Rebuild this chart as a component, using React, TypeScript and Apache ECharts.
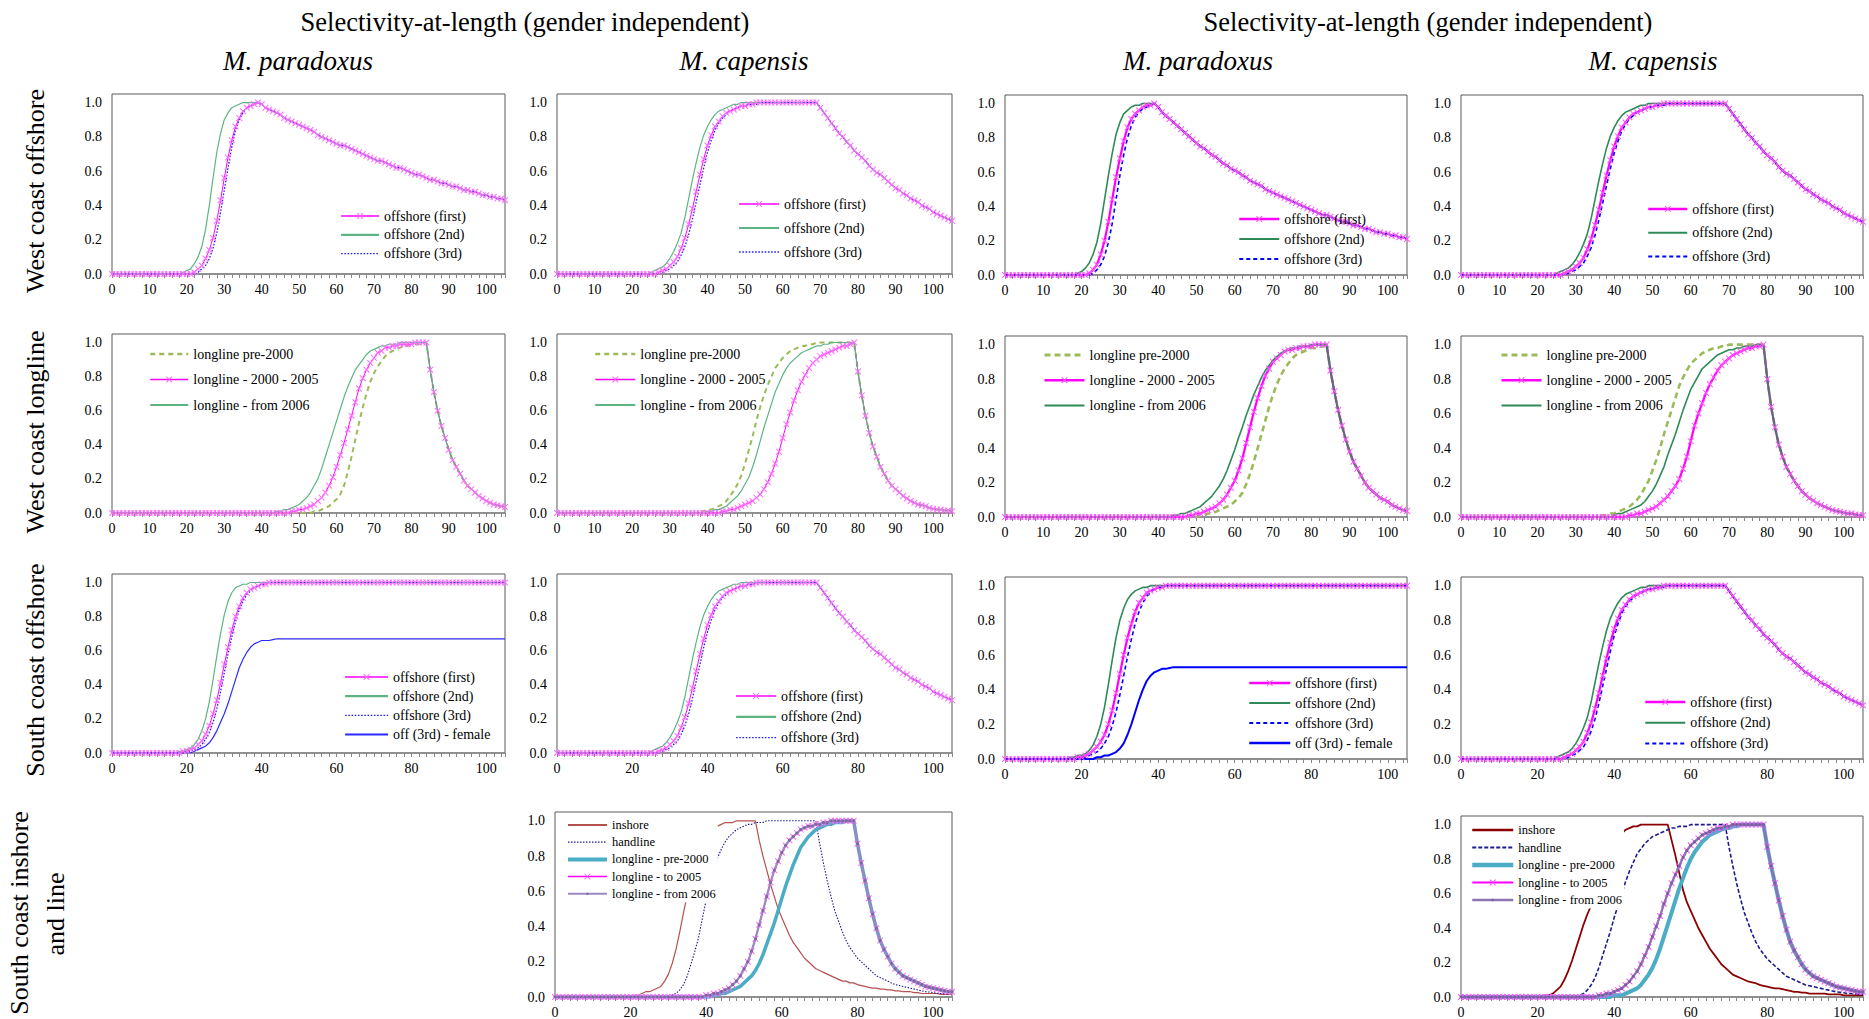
import React, { useEffect, useRef } from "react";
import * as echarts from "echarts";

// ---------------- DATA (selectivity at length 0..105 cm, one value per cm) ----------------
// Row 1: West coast offshore
// left analysis, M. paradoxus: x = 0..39 then common tail 40..105
const aWcoParFirst = [0,0,0,0,0,0,0,0,0,0, 0,0,0,0,0,0,0,0,0,0, 0,0, 0.01,0.03,0.05,0.09,0.14,0.21,0.31,0.43,0.56,0.68, 0.78,0.86,0.91,0.95,0.97,0.98,0.99,1];
const aWcoParSecond = [0,0,0,0,0,0,0,0,0,0, 0,0,0,0,0,0,0,0,0, 0.01,0.02,0.03,0.06,0.10,0.16,0.26,0.40,0.56,0.71, 0.82,0.90,0.94,0.97,0.98,0.99,1,1,1,1,1];
const aWcoParThird = [0,0,0,0,0,0,0,0,0,0, 0,0,0,0,0,0,0,0,0,0, 0,0,0, 0.01,0.03,0.05,0.09,0.15,0.24,0.36,0.49,0.62,0.74, 0.84,0.90,0.94,0.97,0.98,0.99,1];
const aWcoParTail = [0.99,0.97,0.96,0.95,0.94,0.93,0.91,0.90,0.89,0.88, 0.87,0.86,0.85,0.84,0.83,0.81,0.80,0.79,0.78,0.77, 0.76,0.75,0.75,0.74,0.73,0.72,0.71,0.70,0.69,0.68, 0.67,0.66,0.66,0.65,0.64,0.63,0.62,0.62,0.61,0.60, 0.59,0.58,0.58,0.57,0.56,0.55,0.55,0.54,0.53,0.53, 0.52,0.51,0.51,0.50,0.49,0.49,0.48,0.48,0.47,0.46, 0.46,0.45,0.45,0.44,0.44,0.43];
// right analysis, M. paradoxus
const bWcoParFirst = [0,0,0,0,0,0,0,0,0,0, 0,0,0,0,0,0,0,0,0,0, 0,0, 0.01,0.03,0.06,0.12,0.20,0.31,0.44,0.57,0.68,0.78, 0.86,0.91,0.94,0.96,0.98,0.99,0.99,1];
const bWcoParSecond = [0,0,0,0,0,0,0,0,0,0, 0,0,0,0,0,0,0,0,0, 0.01,0.02,0.04,0.07,0.12,0.19,0.30,0.44,0.58,0.71, 0.82,0.89,0.94,0.96,0.98,0.99,0.99,1,1,1,1];
const bWcoParThird = [0,0,0,0,0,0,0,0,0,0, 0,0,0,0,0,0,0,0,0,0, 0,0,0, 0.01,0.03,0.06,0.11,0.19,0.30,0.44,0.58,0.70,0.80, 0.87,0.92,0.95,0.97,0.98,0.99,1];
const bWcoParTail = [0.98,0.95,0.93,0.91,0.89,0.87,0.85,0.83,0.81,0.79, 0.77,0.75,0.74,0.72,0.70,0.69,0.67,0.65,0.64,0.62, 0.61,0.60,0.58,0.57,0.55,0.54,0.53,0.52,0.50,0.49, 0.48,0.47,0.46,0.45,0.44,0.43,0.42,0.41,0.40,0.39, 0.38,0.37,0.36,0.35,0.35,0.34,0.33,0.32,0.31,0.31, 0.30,0.29,0.29,0.28,0.27,0.27,0.26,0.25,0.25,0.24, 0.24,0.23,0.23,0.22,0.22,0.21];
// M. capensis offshore (x = 0..69 then tail 70..105)
const capOffFirst = [0,0,0,0,0,0,0,0,0,0, 0,0,0,0,0,0,0,0,0,0, 0,0,0,0,0,0,0, 0.01,0.02,0.03,0.05,0.07,0.10,0.15,0.21,0.29,0.38, 0.48,0.58,0.67,0.75,0.81,0.86,0.89,0.92,0.94,0.95, 0.96,0.97,0.98,0.98,0.99,0.99, 1,1,1,1,1,1,1,1,1,1, 1,1,1,1,1,1,1];
const capOffSecond = [0,0,0,0,0,0,0,0,0,0, 0,0,0,0,0,0,0,0,0,0, 0,0,0,0,0, 0.01,0.02,0.03,0.04,0.06,0.09,0.13,0.18,0.24,0.33, 0.44,0.55,0.65,0.74,0.81,0.86,0.90,0.93,0.95,0.96, 0.97,0.98,0.99,0.99, 1,1,1,1,1,1,1,1,1,1, 1,1,1,1,1,1,1,1,1,1, 1];
const capOffThird = [0,0,0,0,0,0,0,0,0,0, 0,0,0,0,0,0,0,0,0,0, 0,0,0,0,0,0,0,0, 0.01,0.02,0.03,0.05,0.07,0.11,0.16,0.23,0.32,0.42, 0.52,0.62,0.71,0.78,0.84,0.88,0.91,0.93,0.95,0.96, 0.97,0.98,0.98,0.99,0.99,0.99, 1,1,1,1,1,1,1,1,1,1, 1,1,1,1,1,1];
const capOffTail = [0.97,0.94,0.91,0.88,0.85,0.82,0.80,0.77,0.75,0.72, 0.70,0.68,0.66,0.63,0.61,0.59,0.58,0.56,0.54,0.52, 0.50,0.49,0.47,0.46,0.44,0.43,0.42,0.40,0.39,0.38, 0.36,0.35,0.34,0.33,0.32,0.31];

// Row 2: West coast longline (M. paradoxus x = 0..84, tail 85..105)
const aWclParPre = [0,0,0,0,0,0,0,0,0,0, 0,0,0,0,0,0,0,0,0,0, 0,0,0,0,0,0,0,0,0,0, 0,0,0,0,0,0,0,0,0,0, 0,0,0,0,0,0,0,0,0,0, 0,0,0,0, 0.01,0.01,0.02,0.03,0.04,0.06,0.08,0.11,0.16,0.24, 0.33,0.43,0.53,0.62,0.70,0.77,0.82,0.86,0.89,0.92, 0.94,0.95,0.96,0.97,0.98,0.98,0.99,0.99,0.99,1,1];
const aWclParMid = [0,0,0,0,0,0,0,0,0,0, 0,0,0,0,0,0,0,0,0,0, 0,0,0,0,0,0,0,0,0,0, 0,0,0,0,0,0,0,0,0,0, 0,0,0,0,0,0,0,0, 0.01,0.01,0.02,0.02,0.03,0.04,0.05,0.07,0.09,0.12, 0.16,0.21,0.27,0.34,0.41,0.49,0.57,0.65,0.73,0.79, 0.84,0.88,0.91,0.94,0.95,0.97,0.97,0.98,0.98,0.99, 0.99,0.99,0.99,1,1,1,1];
const aWclParNew = [0,0,0,0,0,0,0,0,0,0, 0,0,0,0,0,0,0,0,0,0, 0,0,0,0,0,0,0,0,0,0, 0,0,0,0,0,0,0,0,0,0, 0,0,0,0, 0.01,0.01,0.02,0.02,0.03,0.04,0.05,0.07,0.09,0.12, 0.16,0.20,0.26,0.33,0.40,0.47,0.54,0.61,0.68,0.74, 0.79,0.84,0.87,0.90,0.93,0.95,0.96,0.97,0.98,0.98, 0.99,0.99,0.99,1,1,1,1,1,1,1,1];
const aWclParTail = [0.84,0.71,0.60,0.51,0.44,0.37,0.31,0.27,0.23,0.19, 0.16,0.14,0.12,0.10,0.085,0.07,0.06,0.05,0.045,0.04, 0.035];
const bWclParNew = [0,0,0,0,0,0,0,0,0,0, 0,0,0,0,0,0,0,0,0,0, 0,0,0,0,0,0,0,0,0,0, 0,0,0,0,0,0,0,0,0,0, 0,0,0,0, 0.01,0.01,0.02,0.02,0.03,0.04,0.05,0.06,0.08,0.10, 0.12,0.15,0.18,0.22,0.27,0.33,0.39,0.46,0.52,0.59, 0.65,0.71,0.76,0.81,0.85,0.88,0.91,0.93,0.95,0.96, 0.97,0.98,0.98,0.99,0.99,0.99,1,1,1,1,1];
const bWclParMid = [0,0,0,0,0,0,0,0,0,0, 0,0,0,0,0,0,0,0,0,0, 0,0,0,0,0,0,0,0,0,0, 0,0,0,0,0,0,0,0,0,0, 0,0,0,0,0,0,0,0, 0.01,0.01,0.02,0.02,0.03,0.04,0.05,0.06,0.08,0.10, 0.13,0.17,0.21,0.27,0.34,0.43,0.52,0.61,0.69,0.76, 0.82,0.86,0.90,0.92,0.94,0.96,0.97,0.97,0.98,0.98, 0.99,0.99,0.99,1,1,1,1];
const bWclParPre = [0,0,0,0,0,0,0,0,0,0, 0,0,0,0,0,0,0,0,0,0, 0,0,0,0,0,0,0,0,0,0, 0,0,0,0,0,0,0,0,0,0, 0,0,0,0,0,0,0,0,0,0, 0, 0.01,0.01,0.02,0.02,0.03,0.04,0.05,0.06,0.07,0.09, 0.11,0.14,0.19,0.25,0.32,0.40,0.48,0.56,0.64,0.71, 0.77,0.82,0.86,0.89,0.92,0.94,0.95,0.96,0.97,0.98, 0.98,0.99,0.99,1];
const bWclParTail = [0.85,0.73,0.62,0.53,0.45,0.38,0.32,0.28,0.24,0.20, 0.17,0.15,0.13,0.11,0.10,0.09,0.07,0.06,0.05,0.04, 0.035];
// M. capensis longline (x = 0..79, tail 80..105)
const aWclCapPre = [0,0,0,0,0,0,0,0,0,0, 0,0,0,0,0,0,0,0,0,0, 0,0,0,0,0,0,0,0,0,0, 0,0,0,0,0,0,0,0, 0.01,0.01,0.02,0.02,0.03,0.04,0.05,0.07,0.10,0.13, 0.17,0.22,0.29,0.37,0.45,0.54,0.62,0.69,0.75,0.80, 0.85,0.88,0.91,0.93,0.95,0.96,0.97,0.98,0.98,0.99, 0.99, 1,1,1,1,1,1,1,1,1,1,1];
const aWclCapNew = [0,0,0,0,0,0,0,0,0,0, 0,0,0,0,0,0,0,0,0,0, 0,0,0,0,0,0,0,0,0,0, 0,0,0,0,0,0,0,0,0,0, 0.01,0.01,0.02,0.02,0.03,0.04,0.06,0.08,0.10,0.13, 0.17,0.21,0.27,0.34,0.42,0.50,0.57,0.64,0.71,0.76, 0.81,0.85,0.88,0.90,0.92,0.94,0.95,0.96,0.97,0.98, 0.98,0.99,0.99, 1,1,1,1,1,1,1];
const aWclCapMid = [0,0,0,0,0,0,0,0,0,0, 0,0,0,0,0,0,0,0,0,0, 0,0,0,0,0,0,0,0,0,0, 0,0,0,0,0,0,0,0,0,0, 0,0,0,0, 0.01,0.01,0.02,0.02,0.03,0.04,0.05,0.06,0.07,0.09, 0.11,0.14,0.18,0.23,0.29,0.36,0.44,0.52,0.59,0.66, 0.72,0.77,0.81,0.85,0.88,0.90,0.92,0.93,0.94,0.95, 0.96,0.97,0.98,0.98,0.99,1];
const aWclCapTail = [0.83,0.69,0.57,0.47,0.39,0.33,0.27,0.23,0.19,0.16, 0.14,0.12,0.10,0.085,0.07,0.06,0.05,0.045,0.04,0.03, 0.025,0.02,0.02,0.015,0.015,0.01];
const bWclCapPre = [0,0,0,0,0,0,0,0,0,0, 0,0,0,0,0,0,0,0,0,0, 0,0,0,0,0,0,0,0,0,0, 0,0,0,0,0,0,0, 0.01,0.01,0.02,0.02,0.03,0.04,0.05,0.06,0.08,0.10, 0.13,0.17,0.21,0.27,0.33,0.40,0.48,0.55,0.62,0.69, 0.76,0.81,0.85,0.89,0.91,0.93,0.95,0.96,0.97,0.98, 0.98,0.99,0.99, 1,1,1,1,1,1,1,1,1,1];
const bWclCapNew = [0,0,0,0,0,0,0,0,0,0, 0,0,0,0,0,0,0,0,0,0, 0,0,0,0,0,0,0,0,0,0, 0,0,0,0,0,0,0,0,0,0, 0.01,0.02,0.02,0.03,0.04,0.05,0.06,0.07,0.09,0.12, 0.15,0.19,0.24,0.29,0.36,0.42,0.48,0.55,0.62,0.68, 0.74,0.78,0.82,0.86,0.88,0.90,0.92,0.94,0.95,0.96, 0.97,0.97,0.98,0.98,0.99,0.99,0.99, 1,1,1];
const bWclCapMid = [0,0,0,0,0,0,0,0,0,0, 0,0,0,0,0,0,0,0,0,0, 0,0,0,0,0,0,0,0,0,0, 0,0,0,0,0,0,0,0,0,0, 0,0,0,0, 0.01,0.01,0.02,0.02,0.03,0.04,0.05,0.06,0.08,0.10, 0.12,0.15,0.18,0.22,0.28,0.35,0.44,0.53,0.60,0.66, 0.72,0.77,0.81,0.85,0.88,0.90,0.92,0.94,0.95,0.96, 0.97,0.98,0.98,0.99,0.99,1];
const bWclCapTail = [0.80,0.64,0.52,0.42,0.35,0.29,0.25,0.21,0.18,0.15, 0.13,0.11,0.095,0.08,0.07,0.06,0.05,0.04,0.035,0.03, 0.025,0.02,0.02,0.015,0.01,0.01];

// Row 3: South coast offshore, M. paradoxus (x = 0..49, then plateau 50..105)
const aScoParFirst = [0,0,0,0,0,0,0,0,0,0, 0,0,0,0,0,0,0,0,0, 0.01,0.01,0.02,0.03,0.05,0.07,0.11,0.16,0.23,0.31, 0.41,0.52,0.62,0.72,0.80,0.86,0.91,0.94,0.96,0.97, 0.98,0.99,0.99, 1,1,1,1,1,1,1,1];
const aScoParSecond = [0,0,0,0,0,0,0,0,0,0, 0,0,0,0,0,0,0,0, 0.01,0.01,0.02,0.03,0.05,0.08,0.13,0.20,0.30,0.43, 0.57,0.70,0.81,0.89,0.94,0.97,0.98,0.99,0.99, 1,1,1,1,1,1,1,1,1,1,1,1,1];
const aScoParThird = [0,0,0,0,0,0,0,0,0,0, 0,0,0,0,0,0,0,0,0,0, 0.01,0.01,0.02,0.03,0.05,0.08,0.12,0.18,0.26,0.36, 0.47,0.58,0.68,0.77,0.84,0.89,0.93,0.95,0.97,0.98, 0.99,0.99, 1,1,1,1,1,1,1,1];
const aScoParFemale = [0,0,0,0,0,0,0,0,0,0, 0,0,0,0,0,0,0,0,0,0, 0,0, 0.01,0.02,0.03,0.04,0.06,0.09,0.13,0.18,0.23,0.29, 0.36,0.43,0.50,0.55,0.59,0.62,0.64,0.65,0.66,0.66, 0.66,0.665, 0.67,0.67,0.67,0.67,0.67,0.67];
const aScoParFemalePlateau = [0.67,0.67,0.67,0.67,0.67,0.67,0.67,0.67,0.67,0.67, 0.67,0.67,0.67,0.67,0.67,0.67,0.67,0.67,0.67,0.67, 0.67,0.67,0.67,0.67,0.67,0.67,0.67,0.67,0.67,0.67, 0.67,0.67,0.67,0.67,0.67,0.67,0.67,0.67,0.67,0.67, 0.67,0.67,0.67,0.67,0.67,0.67,0.67,0.67,0.67,0.67, 0.67,0.67,0.67,0.67,0.67,0.67];
const scoPlateau = [1,1,1,1,1,1,1,1,1,1, 1,1,1,1,1,1,1,1,1,1, 1,1,1,1,1,1,1,1,1,1, 1,1,1,1,1,1,1,1,1,1, 1,1,1,1,1,1,1,1,1,1, 1,1,1,1,1,1];
const bScoParFirst = [0,0,0,0,0,0,0,0,0,0, 0,0,0,0,0,0,0,0,0, 0.01,0.01,0.02,0.03,0.05,0.07,0.10,0.14,0.20,0.28, 0.38,0.49,0.60,0.70,0.78,0.85,0.90,0.93,0.96,0.97, 0.98,0.99,0.99, 1,1,1,1,1,1,1,1];
const bScoParSecond = [0,0,0,0,0,0,0,0,0,0, 0,0,0,0,0,0,0, 0.01,0.01,0.02,0.02,0.03,0.05,0.08,0.13,0.20,0.30, 0.43,0.57,0.70,0.80,0.87,0.92,0.95,0.97,0.98,0.99, 0.99, 1,1,1,1,1,1,1,1,1,1,1,1];
const bScoParThird = [0,0,0,0,0,0,0,0,0,0, 0,0,0,0,0,0,0,0,0,0, 0.01,0.01,0.02,0.03,0.04,0.06,0.09,0.13,0.19,0.27, 0.37,0.48,0.59,0.69,0.78,0.85,0.90,0.94,0.96,0.98, 0.99,0.99, 1,1,1,1,1,1,1,1];
const bScoParFemale = [0,0,0,0,0,0,0,0,0,0, 0,0,0,0,0,0,0,0,0,0, 0,0,0,0, 0.01,0.01,0.02,0.02,0.03,0.04,0.06,0.09,0.14,0.20, 0.27,0.34,0.40,0.45,0.48,0.50,0.51,0.52,0.52,0.525, 0.53,0.53,0.53,0.53,0.53,0.53];
const bScoParFemalePlateau = [0.53,0.53,0.53,0.53,0.53,0.53,0.53,0.53,0.53,0.53, 0.53,0.53,0.53,0.53,0.53,0.53,0.53,0.53,0.53,0.53, 0.53,0.53,0.53,0.53,0.53,0.53,0.53,0.53,0.53,0.53, 0.53,0.53,0.53,0.53,0.53,0.53,0.53,0.53,0.53,0.53, 0.53,0.53,0.53,0.53,0.53,0.53,0.53,0.53,0.53,0.53, 0.53,0.53,0.53,0.53,0.53,0.53];

// Row 4: South coast inshore and line, M. capensis
const aScInshore = [0,0,0,0,0,0,0,0,0,0, 0,0,0,0,0,0,0,0,0,0, 0, 0.01,0.01,0.02,0.03,0.03,0.04,0.05,0.06,0.09,0.13, 0.19,0.27,0.37,0.48,0.58,0.68,0.76,0.83,0.88,0.92, 0.95,0.96,0.97,0.98,0.99,0.99,0.99, 1,1,1,1,1,1, 0.89,0.80,0.72,0.64,0.57,0.50,0.45,0.40,0.35,0.31, 0.28,0.25,0.22,0.20,0.18,0.16,0.15,0.14,0.13,0.12, 0.11,0.10,0.09,0.09,0.08,0.08,0.07,0.065,0.06,0.055, 0.05,0.05,0.045,0.045,0.04,0.04,0.035,0.035,0.03,0.03, 0.03,0.025,0.025,0.02,0.02,0.02,0.02,0.02,0.015,0.015, 0.015,0.015];
const aScHandline = [0,0,0,0,0,0,0,0,0,0, 0,0,0,0,0,0,0,0,0,0, 0,0,0,0,0,0,0,0,0,0, 0, 0.01,0.02,0.04,0.07,0.12,0.19,0.26,0.34,0.45,0.55, 0.64,0.72,0.79,0.84,0.88,0.91,0.93,0.95,0.96,0.97, 0.98,0.98,0.99,0.99,0.99, 1,1,1,1,1,1,1,1,1,1,1,1,1,1];
const handlineTail = [0.87,0.76,0.66,0.57,0.49,0.43,0.37,0.32,0.28,0.25, 0.22,0.20,0.18,0.16,0.14,0.12,0.11,0.10,0.09,0.08, 0.07,0.065,0.06,0.055,0.05,0.045,0.04,0.035,0.03,0.028, 0.025,0.02,0.02,0.018,0.016,0.015];
const aScLongPre = [0,0,0,0,0,0,0,0,0,0, 0,0,0,0,0,0,0,0,0,0, 0,0,0,0,0,0,0,0,0,0, 0,0,0,0,0,0,0,0,0,0, 0,0, 0.01,0.01,0.02,0.02,0.03,0.04,0.05,0.06,0.08,0.10, 0.12,0.15,0.19,0.24,0.30,0.36,0.42,0.49,0.56,0.63, 0.69,0.75,0.80,0.85,0.88,0.91,0.93,0.95,0.96,0.97, 0.98,0.98,0.99,0.99,0.99, 1,1,1];
const aScLongTo2005 = [0,0,0,0,0,0,0,0,0,0, 0,0,0,0,0,0,0,0,0,0, 0,0,0,0,0,0,0,0,0,0, 0,0,0,0,0,0,0,0,0,0, 0.01,0.01,0.02,0.02,0.03,0.04,0.05,0.07,0.09,0.12, 0.16,0.20,0.26,0.33,0.41,0.49,0.57,0.65,0.72,0.77, 0.82,0.86,0.89,0.91,0.93,0.95,0.96,0.97,0.97,0.98, 0.98,0.99,0.99, 1,1,1,1,1,1,1];
const aScLongFrom2006 = aScLongTo2005; // the two curves coincide in the picture
const scLongTail = [0.87,0.76,0.66,0.56,0.47,0.39,0.32,0.27,0.23,0.19, 0.16,0.14,0.12,0.11,0.10,0.09,0.08,0.07,0.06,0.055, 0.05,0.045,0.04,0.035,0.03,0.03];
const bScInshore = [0,0,0,0,0,0,0,0,0,0, 0,0,0,0,0,0,0,0,0,0, 0,0, 0.01,0.01,0.02,0.04,0.06,0.10,0.15,0.21,0.28,0.35, 0.42,0.48,0.53,0.60,0.68,0.75,0.81,0.86,0.90,0.93, 0.95,0.97,0.98,0.99,0.99, 1,1,1,1,1,1,1,1, 0.91,0.82,0.72,0.62,0.55,0.50,0.45,0.40,0.36,0.32, 0.28,0.25,0.22,0.19,0.17,0.15,0.13,0.12,0.11,0.10, 0.09,0.085,0.08,0.07,0.065,0.06,0.055,0.05,0.05,0.045, 0.04,0.035,0.03,0.03,0.025,0.025,0.02,0.02,0.02,0.02, 0.02,0.015,0.015,0.015,0.015,0.01,0.01,0.01,0.01,0.01, 0.01];
const bScHandline = [0,0,0,0,0,0,0,0,0,0, 0,0,0,0,0,0,0,0,0,0, 0,0,0,0,0,0,0,0,0,0, 0, 0.01,0.02,0.04,0.07,0.11,0.17,0.24,0.31,0.38,0.46, 0.53,0.60,0.67,0.73,0.78,0.83,0.86,0.89,0.91,0.93, 0.94,0.95,0.96,0.97,0.98,0.98,0.99,0.99,0.99, 1,1,1,1,1,1,1,1,1,1];
const bScLongPre = [0,0,0,0,0,0,0,0,0,0, 0,0,0,0,0,0,0,0,0,0, 0,0,0,0,0,0,0,0,0,0, 0,0,0,0,0,0,0,0,0,0, 0.01,0.01,0.01,0.02,0.03,0.04,0.05,0.07,0.10,0.13, 0.17,0.22,0.28,0.35,0.42,0.49,0.56,0.63,0.69,0.75, 0.80,0.84,0.87,0.90,0.92,0.94,0.95,0.96,0.97,0.98, 0.98,0.99,0.99, 1,1,1,1,1,1,1];
const bScLongTo2005 = [0,0,0,0,0,0,0,0,0,0, 0,0,0,0,0,0,0,0,0,0, 0,0,0,0,0,0,0,0,0,0, 0,0,0,0,0,0, 0.01,0.01,0.02,0.02,0.03,0.04,0.05,0.07,0.09,0.12, 0.15,0.19,0.24,0.29,0.35,0.41,0.47,0.54,0.60,0.66, 0.71,0.76,0.81,0.85,0.88,0.90,0.92,0.94,0.95,0.96, 0.97,0.98,0.98,0.99,0.99, 1,1,1,1,1,1,1,1,1];
const bScLongFrom2006 = bScLongTo2005;

// Text
const mainTitle = "Selectivity-at-length (gender independent)";
const speciesNames = ["M. paradoxus", "M. capensis"];
const rowNames = ["West coast offshore", "West coast longline", "South coast offshore"];
const lastRowName = ["South coast inshore", "and line"];
const yTickLabels = ["0.0", "0.2", "0.4", "0.6", "0.8", "1.0"];

// ---------------- STYLE / LAYOUT ----------------
const SERIF = "Liberation Serif";
const STAR = "path://M0,1.1L1.1,0L5,3.9L8.9,0L10,1.1L6.1,5L10,8.9L8.9,10L5,6.1L1.1,10L0,8.9L3.9,5Z";
const DOT = "path://M0,0L0.01,0M10,10L9.99,10M5,3L6.4,3.6L7,5L6.4,6.4L5,7L3.6,6.4L3,5L3.6,3.6Z";

type Spec = {
  label: string; data: number[]; color: string; width: number; dash?: any;
  marker?: string; markerColor?: string; markerSize?: number; z?: number; legendWidth?: number;
};
const sty = {
  aMag: { color: "#ff00ff", width: 1, marker: STAR, markerColor: "#ff6cff", markerSize: 6.5, legendWidth: 1.5 },
  aGreen: { color: "#5cb485", width: 1.2, legendWidth: 2.2 },
  aBlue: { color: "#2222ff", width: 1.3, dash: [1.6, 1.6], legendWidth: 1.4 },
  aOlive: { color: "#9bbb59", width: 2, dash: [5, 4], legendWidth: 2.5 },
  aFemale: { color: "#2a2aff", width: 1.2, legendWidth: 2 },
  bMag: { color: "#ff00ff", width: 2.2, marker: STAR, markerColor: "#ff55ff", markerSize: 6.5, legendWidth: 2.5 },
  bGreen: { color: "#2e8b57", width: 1.6, legendWidth: 2 },
  bBlue: { color: "#0000ff", width: 1.6, dash: [4, 3], legendWidth: 2 },
  bOlive: { color: "#9bbb59", width: 2.6, dash: [6, 4], legendWidth: 3 },
  bFemale: { color: "#0000ff", width: 2, legendWidth: 2.5 },
};

const join = (...parts: number[][]) => ([] as number[]).concat(...parts);

type Panel = {
  id: string; left: number; top: number; width: number; height: number; step: number;
  lg: { left: number; top: number; gap: number; iw: number; fs: number; bg?: boolean };
  series: Spec[];
};

const offA = (first: number[], second: number[], third: number[], tail: number[]): Spec[] => [
  { label: "offshore (first)", data: join(first, tail), ...sty.aMag },
  { label: "offshore (2nd)", data: join(second, tail), ...sty.aGreen },
  { label: "offshore (3rd)", data: join(third, tail), ...sty.aBlue },
];
const offB = (first: number[], second: number[], third: number[], tail: number[]): Spec[] => [
  { label: "offshore (first)", data: join(first, tail), ...sty.bMag },
  { label: "offshore (2nd)", data: join(second, tail), ...sty.bGreen },
  { label: "offshore (3rd)", data: join(third, tail), ...sty.bBlue },
];

const panels: Panel[] = [
  { id: "r1c1", left: 112, top: 94, width: 393, height: 180, step: 10,
    lg: { left: 340, top: 209, gap: 4.8, iw: 38, fs: 14 },
    series: offA(aWcoParFirst, aWcoParSecond, aWcoParThird, aWcoParTail) },
  { id: "r1c2", left: 557, top: 94, width: 395, height: 180, step: 10,
    lg: { left: 738, top: 197, gap: 10, iw: 40, fs: 14 },
    series: offA(capOffFirst, capOffSecond, capOffThird, capOffTail) },
  { id: "r1c3", left: 1005, top: 95, width: 402, height: 180, step: 10,
    lg: { left: 1238, top: 212, gap: 6, iw: 40, fs: 14 },
    series: offB(bWcoParFirst, bWcoParSecond, bWcoParThird, bWcoParTail) },
  { id: "r1c4", left: 1461, top: 95, width: 402, height: 180, step: 10,
    lg: { left: 1647, top: 202, gap: 9.8, iw: 39, fs: 14 },
    series: offB(capOffFirst, capOffSecond, capOffThird, capOffTail) },
  { id: "r2c1", left: 112, top: 334, width: 393, height: 179, step: 10,
    lg: { left: 149, top: 347, gap: 11.5, iw: 38, fs: 14 },
    series: [
      { label: "longline pre-2000", data: join(aWclParPre, aWclParTail), ...sty.aOlive },
      { label: "longline - 2000 - 2005", data: join(aWclParMid, aWclParTail), ...sty.aMag },
      { label: "longline - from 2006", data: join(aWclParNew, aWclParTail), ...sty.aGreen },
    ] },
  { id: "r2c2", left: 557, top: 334, width: 395, height: 179, step: 10,
    lg: { left: 594, top: 347, gap: 11.5, iw: 40, fs: 14 },
    series: [
      { label: "longline pre-2000", data: join(aWclCapPre, aWclCapTail), ...sty.aOlive },
      { label: "longline - 2000 - 2005", data: join(aWclCapMid, aWclCapTail), ...sty.aMag },
      { label: "longline - from 2006", data: join(aWclCapNew, aWclCapTail), ...sty.aGreen },
    ] },
  { id: "r2c3", left: 1005, top: 336, width: 402, height: 181, step: 10,
    lg: { left: 1043, top: 348, gap: 11.2, iw: 40, fs: 14 },
    series: [
      { label: "longline pre-2000", data: join(bWclParPre, bWclParTail), ...sty.bOlive },
      { label: "longline - 2000 - 2005", data: join(bWclParMid, bWclParTail), ...sty.bMag },
      { label: "longline - from 2006", data: join(bWclParNew, bWclParTail), ...sty.bGreen },
    ] },
  { id: "r2c4", left: 1461, top: 336, width: 402, height: 181, step: 10,
    lg: { left: 1500, top: 348, gap: 11.2, iw: 40, fs: 14 },
    series: [
      { label: "longline pre-2000", data: join(bWclCapPre, bWclCapTail), ...sty.bOlive },
      { label: "longline - 2000 - 2005", data: join(bWclCapMid, bWclCapTail), ...sty.bMag },
      { label: "longline - from 2006", data: join(bWclCapNew, bWclCapTail), ...sty.bGreen },
    ] },
  { id: "r3c1", left: 112, top: 574, width: 393, height: 179, step: 20,
    lg: { left: 344, top: 670, gap: 5.2, iw: 43, fs: 14 },
    series: [
      { label: "offshore (first)", data: join(aScoParFirst, scoPlateau), ...sty.aMag },
      { label: "offshore (2nd)", data: join(aScoParSecond, scoPlateau), ...sty.aGreen },
      { label: "offshore (3rd)", data: join(aScoParThird, scoPlateau), ...sty.aBlue },
      { label: "off (3rd) - female", data: join(aScoParFemale, aScoParFemalePlateau), ...sty.aFemale },
    ] },
  { id: "r3c2", left: 557, top: 574, width: 395, height: 179, step: 20,
    lg: { left: 735, top: 689, gap: 6.8, iw: 40, fs: 14 },
    series: offA(capOffFirst, capOffSecond, capOffThird, capOffTail) },
  { id: "r3c3", left: 1005, top: 577, width: 402, height: 182, step: 20,
    lg: { left: 1248, top: 676, gap: 6, iw: 41, fs: 14 },
    series: [
      { label: "offshore (first)", data: join(bScoParFirst, scoPlateau), ...sty.bMag },
      { label: "offshore (2nd)", data: join(bScoParSecond, scoPlateau), ...sty.bGreen },
      { label: "offshore (3rd)", data: join(bScoParThird, scoPlateau), ...sty.bBlue },
      { label: "off (3rd) - female", data: join(bScoParFemale, bScoParFemalePlateau), ...sty.bFemale },
    ] },
  { id: "r3c4", left: 1461, top: 577, width: 402, height: 182, step: 20,
    lg: { left: 1644, top: 695, gap: 6.7, iw: 40, fs: 14 },
    series: offB(capOffFirst, capOffSecond, capOffThird, capOffTail) },
  { id: "r4c2", left: 555, top: 812, width: 397, height: 187, step: 20,
    lg: { left: 563, top: 815.5, gap: 4.2, iw: 39, fs: 12.5, bg: true },
    series: [
      { label: "inshore", data: aScInshore, color: "#b4514f", width: 1.2, legendWidth: 2 },
      { label: "handline", data: join(aScHandline, handlineTail), color: "#1a1a9a", width: 1.1, dash: [1.5, 1.5], legendWidth: 1.3 },
      { label: "longline - pre-2000", data: join(aScLongPre, scLongTail), color: "#4bacc6", width: 3.5, legendWidth: 4 },
      { label: "longline - to 2005", data: join(aScLongTo2005, scLongTail), color: "#ff00ff", width: 1.2, marker: STAR, markerColor: "#ff66ff", markerSize: 6.5, z: 3, legendWidth: 1.5 },
      { label: "longline - from 2006", data: join(aScLongFrom2006, scLongTail), color: "#9d87c4", width: 2.2, marker: DOT, markerColor: "#8064a2", markerSize: 8, z: 4, legendWidth: 2 },
    ] },
  { id: "r4c4", left: 1461, top: 816, width: 402, height: 189, step: 20,
    lg: { left: 1467, top: 820.5, gap: 4.5, iw: 41, fs: 12.5, bg: true },
    series: [
      { label: "inshore", data: bScInshore, color: "#8b0000", width: 1.8, legendWidth: 2.5 },
      { label: "handline", data: join(bScHandline, handlineTail), color: "#1c1c8c", width: 1.6, dash: [4, 2], legendWidth: 2 },
      { label: "longline - pre-2000", data: join(bScLongPre, scLongTail), color: "#4bacc6", width: 4, legendWidth: 4.5 },
      { label: "longline - to 2005", data: join(bScLongTo2005, scLongTail), color: "#ff00ff", width: 1.6, marker: STAR, markerColor: "#ff55ff", markerSize: 6.5, z: 3, legendWidth: 2 },
      { label: "longline - from 2006", data: join(bScLongFrom2006, scLongTail), color: "#8d74b6", width: 2.2, marker: DOT, markerColor: "#7a5ea0", markerSize: 8, z: 4, legendWidth: 2.5 },
    ] },
];

const texts = [
  { text: mainTitle, x: 525, y: 22, size: 26.5 },
  { text: mainTitle, x: 1428, y: 22, size: 26.5 },
  { text: speciesNames[0], x: 298, y: 61, size: 27, italic: true },
  { text: speciesNames[1], x: 744, y: 61, size: 27, italic: true },
  { text: speciesNames[0], x: 1198, y: 61, size: 27, italic: true },
  { text: speciesNames[1], x: 1653, y: 61, size: 27, italic: true },
  { text: rowNames[0], x: 35, y: 191, size: 26, rot: true },
  { text: rowNames[1], x: 35, y: 432, size: 26, rot: true },
  { text: rowNames[2], x: 35, y: 670, size: 26, rot: true },
  { text: lastRowName[0], x: 19, y: 913, size: 26, rot: true },
  { text: lastRowName[1], x: 55, y: 914, size: 26, rot: true },
];

function buildOption() {
  const nm = (s: Spec, p: Panel) => s.label + "|" + p.id;
  const series: any[] = [];
  panels.forEach((p, i) => {
    p.series.forEach((s) => {
      series.push({
        type: "line",
        name: nm(s, p),
        xAxisIndex: i,
        yAxisIndex: i,
        data: s.data.map((v, x) => [x, v]),
        showSymbol: !!s.marker,
        showAllSymbol: true,
        symbol: s.marker || "none",
        symbolSize: s.markerSize || 6,
        itemStyle: { color: s.markerColor || s.color, borderWidth: 0 },
        lineStyle: { color: s.color, width: s.width, type: s.dash || "solid" },
        z: s.z || 2,
        silent: true,
        animation: false,
        clip: true,
      });
    });
  });
  return {
    animation: false,
    backgroundColor: "#ffffff",
    textStyle: { fontFamily: SERIF },
    grid: panels.map((p) => ({
      left: p.left, top: p.top, width: p.width, height: p.height,
      show: true, borderColor: "#5a5a5a", borderWidth: 1, backgroundColor: "transparent",
    })),
    xAxis: panels.map((p, i) => ({
      gridIndex: i, type: "value", min: 0, max: 105, interval: p.step,
      axisLine: { show: true, onZero: false, lineStyle: { color: "#868686", width: 1.5 } },
      axisTick: { show: true, length: 4, lineStyle: { color: "#868686" } },
      minorTick: { show: true, splitNumber: p.step / 2, length: 4, lineStyle: { color: "#868686" } },
      splitLine: { show: false },
      axisLabel: {
        fontFamily: SERIF, fontSize: 14, color: "#000", margin: 8,
        formatter: (v: number) => (v % p.step === 0 ? String(v) : ""),
      },
    })),
    yAxis: panels.map((p, i) => ({
      gridIndex: i, type: "value", min: 0, max: 1.05, interval: 0.2,
      axisLine: { show: false }, axisTick: { show: false }, splitLine: { show: false },
      axisLabel: {
        fontFamily: SERIF, fontSize: 14, color: "#000", margin: 10,
        formatter: (v: number) => {
          const k = Math.round(v * 5);
          return Math.abs(v * 5 - k) < 1e-6 && k <= 5 ? yTickLabels[k] : "";
        },
      },
    })),
    legend: panels.map((p) => ({
      orient: "vertical",
      left: p.lg.left,
      top: p.lg.top,
      itemGap: p.lg.gap,
      itemWidth: p.lg.iw,
      itemHeight: 8,
      selectedMode: false,
      padding: p.lg.bg ? [3, 2, 2, 3] : 0,
      backgroundColor: p.lg.bg ? "#ffffff" : "transparent",
      itemStyle: { borderWidth: 0 },
      lineStyle: { width: "inherit" },
      textStyle: { fontFamily: SERIF, fontSize: p.lg.fs, color: "#000", lineHeight: Math.round(p.lg.fs) },
      formatter: (name: string) => name.split("|")[0],
      data: p.series.map((s) => ({
        name: nm(s, p),
        itemStyle: s.marker ? { borderWidth: 0 } : { opacity: 0 },
        lineStyle: { width: s.legendWidth || s.width },
      })),
    })),
    series,
    graphic: texts.map((t: any) => ({
      type: "text",
      x: t.x,
      y: t.y,
      rotation: t.rot ? Math.PI / 2 : 0,
      silent: true,
      style: {
        text: t.text,
        fontSize: t.size,
        fontFamily: SERIF,
        fontStyle: t.italic ? "italic" : "normal",
        fill: "#000",
        textAlign: "center",
        textVerticalAlign: "middle",
        align: "center",
        verticalAlign: "middle",
      },
    })),
  };
}

export default function App() {
  const ref = useRef<HTMLDivElement>(null);
  useEffect(() => {
    if (!ref.current) return;
    const chart = echarts.init(ref.current, undefined, { renderer: "svg" });
    chart.setOption(buildOption() as any);
    return () => chart.dispose();
  }, []);
  return (
    <div
      ref={ref}
      style={{ position: "absolute", left: 0, top: 0, width: 1869, height: 1019, background: "#fff" }}
    />
  );
}
